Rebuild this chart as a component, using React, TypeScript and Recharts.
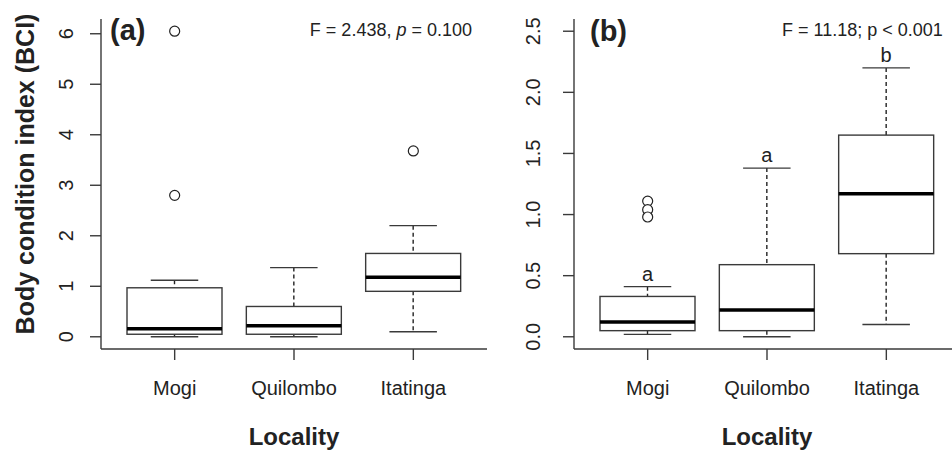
import React from 'react'
import { ComposedChart, Bar, Scatter, XAxis, YAxis } from 'recharts'

const localities = ['Mogi', 'Quilombo', 'Itatinga']

// (a) body condition index
const aLow = [0.0, 0.0, 0.1]
const aQ1 = [0.05, 0.05, 0.9]
const aMedian = [0.16, 0.22, 1.18]
const aQ3 = [0.97, 0.6, 1.65]
const aHigh = [1.12, 1.37, 2.2]
const aOutlierLocality = ['Mogi', 'Mogi', 'Itatinga']
const aOutlierValue = [6.05, 2.8, 3.68]
const aTicks = [0, 1, 2, 3, 4, 5, 6]

// (b)
const bLow = [0.02, 0.0, 0.1]
const bQ1 = [0.05, 0.05, 0.68]
const bMedian = [0.12, 0.22, 1.17]
const bQ3 = [0.33, 0.59, 1.65]
const bHigh = [0.41, 1.38, 2.2]
const bLetters = ['a', 'a', 'b']
const bOutlierLocality = ['Mogi', 'Mogi', 'Mogi']
const bOutlierValue = [1.11, 1.04, 0.98]
const bTicks = [0, 0.5, 1, 1.5, 2, 2.5]

const INK = '#222'
const AXIS = '#3a3a3a'
const FONT = '"Liberation Sans", Arial, sans-serif'

type BoxRow = {
  name: string
  low: number
  q1: number
  median: number
  q3: number
  high: number
  letter?: string
}

const buildRows = (
  low: number[], q1: number[], median: number[], q3: number[], high: number[], letters?: string[],
): BoxRow[] =>
  localities.map((name, i) => ({
    name, low: low[i], q1: q1[i], median: median[i], q3: q3[i], high: high[i], letter: letters?.[i],
  }))

const buildOutliers = (loc: string[], val: number[]) =>
  loc.map((name, i) => ({ name, value: val[i] }))

// box drawn from the bar that spans low..high
const BoxShape = (props: any) => {
  const { x, y, width, height, payload } = props
  const d = payload as BoxRow
  const span = d.high - d.low
  const ppu = span > 0 ? height / span : 0
  const yOf = (v: number) => y + (d.high - v) * ppu
  const cx = x + width / 2
  const cap = width / 4
  return (
    <g>
      <line x1={cx} x2={cx} y1={yOf(d.high)} y2={yOf(d.q3)} stroke={INK} strokeWidth={1.4} strokeDasharray="4 3" />
      <line x1={cx} x2={cx} y1={yOf(d.q1)} y2={yOf(d.low)} stroke={INK} strokeWidth={1.4} strokeDasharray="4 3" />
      <line x1={cx - cap} x2={cx + cap} y1={yOf(d.high)} y2={yOf(d.high)} stroke={AXIS} strokeWidth={1.4} />
      <line x1={cx - cap} x2={cx + cap} y1={yOf(d.low)} y2={yOf(d.low)} stroke={AXIS} strokeWidth={1.4} />
      <rect x={x} y={yOf(d.q3)} width={width} height={yOf(d.q1) - yOf(d.q3)} fill="#fff" stroke={AXIS} strokeWidth={1.4} />
      <line x1={x} x2={x + width} y1={yOf(d.median)} y2={yOf(d.median)} stroke="#000" strokeWidth={3.5} />
      {d.letter && (
        <text x={cx} y={yOf(d.high) - 6} textAnchor="middle" fontSize={20} fontFamily={FONT} fill={INK}>
          {d.letter}
        </text>
      )}
    </g>
  )
}

const OutlierDot = (props: any) => (
  <circle cx={props.cx} cy={props.cy} r={5} fill="#fff" stroke={INK} strokeWidth={1.2} />
)

const makeYTick = (dx: number, fmt: (v: number) => string) => (props: any) => {
  const { x, y, payload } = props
  const tx = x + dx
  return (
    <text x={tx} y={y} transform={`rotate(-90 ${tx} ${y})`} textAnchor="middle" fontSize={20} fontFamily={FONT} fill={INK}>
      {fmt(payload.value)}
    </text>
  )
}

const XTick = (props: any) => {
  const { x, y, payload } = props
  return (
    <text x={x} y={y + 33} textAnchor="middle" fontSize={20} fontFamily={FONT} fill={INK}>
      {payload.value}
    </text>
  )
}

const LocalityLabel = (props: any) => {
  const { viewBox } = props
  return (
    <text x={viewBox.x + viewBox.width / 2} y={445} textAnchor="middle" fontSize={24} fontWeight="bold" fontFamily={FONT} fill={INK}>
      Locality
    </text>
  )
}

const BciLabel = () => (
  <text x={34} y={174} transform="rotate(-90 34 174)" textAnchor="middle" fontSize={25} fontWeight="bold" fontFamily={FONT} fill={INK}>
    Body condition index (BCI)
  </text>
)

type PanelProps = {
  rows: BoxRow[]
  outliers: { name: string; value: number }[]
  domain: [number, number]
  ticks: number[]
  left: number
  width: number
  marginLeft: number
  tickDx: number
  fmt: (v: number) => string
  yLabel?: boolean
}

function Panel({ rows, outliers, domain, ticks, left, width, marginLeft, tickDx, fmt, yLabel }: PanelProps) {
  return (
    <div style={{ position: 'absolute', left, top: 0 }}>
      <ComposedChart width={width} height={453} data={rows} margin={{ top: 19, right: 0, bottom: 44, left: marginLeft }}>
        <XAxis
          dataKey="name"
          type="category"
          allowDuplicatedCategory={false}
          padding={{ left: 14, right: 14 }}
          height={60}
          axisLine={{ stroke: AXIS, strokeWidth: 1.4 }}
          tickLine={{ stroke: AXIS, strokeWidth: 1.4 }}
          tickSize={11}
          tick={<XTick />}
          label={<LocalityLabel />}
        />
        <YAxis
          type="number"
          domain={domain}
          ticks={ticks}
          allowDataOverflow
          width={60}
          axisLine={{ stroke: AXIS, strokeWidth: 1.4 }}
          tickLine={{ stroke: AXIS, strokeWidth: 1.4 }}
          tickSize={11}
          tickMargin={0}
          tick={makeYTick(tickDx, fmt)}
          label={yLabel ? <BciLabel /> : undefined}
        />
        <Bar
          dataKey={(d: BoxRow) => [d.low, d.high]}
          barSize={95}
          shape={<BoxShape />}
          isAnimationActive={false}
        />
        <Scatter data={outliers} dataKey="value" shape={<OutlierDot />} isAnimationActive={false} />
      </ComposedChart>
    </div>
  )
}

export default function App() {
  const rowsA = buildRows(aLow, aQ1, aMedian, aQ3, aHigh)
  const rowsB = buildRows(bLow, bQ1, bMedian, bQ3, bHigh, bLetters)
  return (
    <div style={{ position: 'absolute', left: 0, top: 0, width: 952, height: 453, overflow: 'hidden', background: '#fff' }}>
      <Panel
        rows={rowsA}
        outliers={buildOutliers(aOutlierLocality, aOutlierValue)}
        domain={[-0.242, 6.292]}
        ticks={aTicks}
        left={0}
        width={487}
        marginLeft={41}
        tickDx={-17}
        fmt={(v) => String(v)}
        yLabel
      />
      <Panel
        rows={rowsB}
        outliers={buildOutliers(bOutlierLocality, bOutlierValue)}
        domain={[-0.1, 2.6]}
        ticks={bTicks}
        left={480}
        width={480}
        marginLeft={34}
        tickDx={-23}
        fmt={(v) => v.toFixed(1)}
      />
      <svg width={952} height={60} style={{ position: 'absolute', left: 0, top: 0 }}>
        <text x={110} y={40} fontSize={29} fontWeight="bold" fontFamily={FONT} fill={INK}>(a)</text>
        <text x={472} y={36} textAnchor="end" fontSize={18} fontFamily={FONT} fill={INK}>
          F = 2.438, <tspan fontStyle="italic">p</tspan> = 0.100
        </text>
        <text x={590} y={41} fontSize={29} fontWeight="bold" fontFamily={FONT} fill={INK}>(b)</text>
        <text x={782} y={36} fontSize={18} fontFamily={FONT} fill={INK}>F = 11.18; p &lt; 0.001</text>
      </svg>
    </div>
  )
}
